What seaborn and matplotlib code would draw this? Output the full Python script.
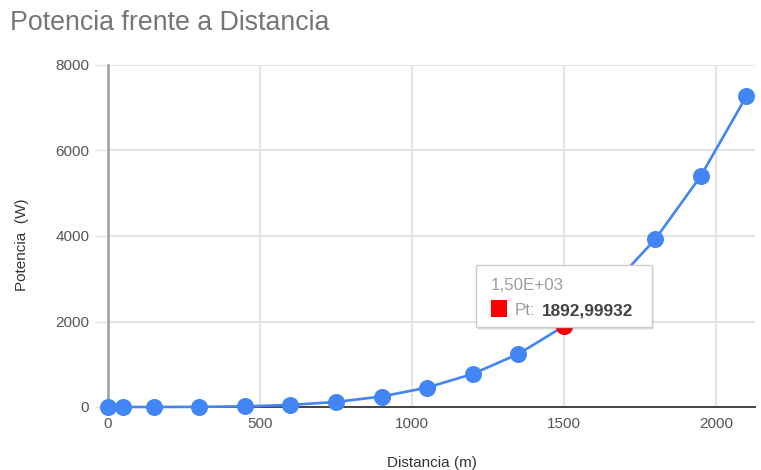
import matplotlib
matplotlib.use("Agg")
import matplotlib.pyplot as plt
import matplotlib.transforms as mtransforms
from matplotlib.patches import Rectangle
import pandas as pd
import seaborn as sns

# Power delivered at each distance
distancia = [0, 50, 150, 300, 450, 600, 750, 900, 1050, 1200, 1350, 1500,
             1650, 1800, 1950, 2100]
potencia = [0.0, 0.0, 0.2, 3.0, 15.3, 48.5, 118.3, 245.3, 454.5, 775.3,
            1242.0, 1892.99932, 2771.5, 3925.3, 5406.7, 7272.3]

x_ticks = [0, 500, 1000, 1500, 2000]
y_ticks = [0, 2000, 4000, 6000, 8000]

sel_x = 1500
sel_y = 1892.99932
sel_head = "1,50E+03"
sel_label = "1892,99932"

df = pd.DataFrame({"Distancia": distancia, "Potencia": potencia})

sns.set_theme(style="white")
plt.rcParams["font.family"] = ["Liberation Sans", "DejaVu Sans"]

BLUE = "#4285F4"
GRID = "#e3e3e3"

fig = plt.figure(figsize=(7.61, 4.70), dpi=100)
ax = fig.add_axes([108 / 761, 63 / 470, 647 / 761, 342 / 470])

sns.lineplot(data=df, x="Distancia", y="Potencia", ax=ax, color=BLUE,
             linewidth=1.9, zorder=3, clip_on=False)
sns.scatterplot(data=df, x="Distancia", y="Potencia", ax=ax, color=BLUE,
                s=150, linewidth=0, zorder=4, clip_on=False)
sel = df[df["Distancia"] == sel_x]
sns.scatterplot(data=sel, x="Distancia", y="Potencia", ax=ax, color="#ff0000",
                s=150, linewidth=0, zorder=5, clip_on=False)

ax.set_xlim(0, 2128)
ax.set_ylim(0, 8000)
ax.set_xticks(x_ticks)
ax.set_yticks(y_ticks)
ax.set_xticklabels([str(v) for v in x_ticks])
ax.set_yticklabels([str(v) for v in y_ticks])

ax.grid(True, color=GRID, linewidth=1.4, zorder=0)
ax.set_axisbelow(True)
for side in ("top", "right"):
    ax.spines[side].set_visible(False)
ax.spines["left"].set_color("#9e9e9e")
ax.spines["left"].set_linewidth(1.8)
ax.spines["bottom"].set_color("#444444")
ax.spines["bottom"].set_linewidth(1.4)
ax.spines["left"].set_zorder(2)

ax.tick_params(axis="y", length=9.5, width=1.0, color=GRID, pad=4.0,
               labelsize=11, labelcolor="#555555", left=True)
ax.tick_params(axis="x", length=0, pad=7.5, labelsize=11,
               labelcolor="#555555", bottom=True)

ax.set_xlabel("Distancia (m)", fontsize=11, color="#333333", labelpad=18)
ax.set_ylabel("Potencia  (W)", fontsize=11, color="#333333")
ax.yaxis.set_label_coords(-0.122, 0.474)

fig.text(10 / 761, 1 - 23 / 470, "Potencia frente a Distancia", fontsize=19.3,
         color="#757575", va="center", ha="left")

# Hover card anchored to the highlighted point; offsets in inches (1 px = 0.01 in)
anchor = fig.dpi_scale_trans + mtransforms.ScaledTranslation(sel_x, sel_y, ax.transData)
for dx, dy, a in ((0.01, -0.02, 0.10), (0.02, -0.03, 0.05)):
    ax.add_patch(Rectangle((-0.88 + dx, -0.005 + dy), 1.76, 0.615,
                           transform=anchor, facecolor="#000000", alpha=a,
                           edgecolor="none", zorder=9, clip_on=False))
card = Rectangle((-0.88, -0.005), 1.76, 0.615, transform=anchor,
                 facecolor="white", edgecolor="#cccccc", linewidth=1.0,
                 zorder=10, clip_on=False)
ax.add_patch(card)
ax.add_patch(Rectangle((-0.735, 0.095), 0.165, 0.165, transform=anchor,
                       facecolor="#ff0000", edgecolor="none", zorder=11,
                       clip_on=False))
ax.text(-0.735, 0.36, sel_head, transform=anchor, fontsize=12.2,
        color="#9e9e9e", va="baseline", ha="left", zorder=11)
ax.text(-0.49, 0.11, "Pt:", transform=anchor, fontsize=12.2,
        color="#9e9e9e", va="baseline", ha="left", zorder=11)
ax.text(-0.225, 0.11, sel_label, transform=anchor, fontsize=12.4,
        fontweight="bold", color="#424242", va="baseline", ha="left",
        zorder=11)

fig.savefig("out.png", dpi=100)
